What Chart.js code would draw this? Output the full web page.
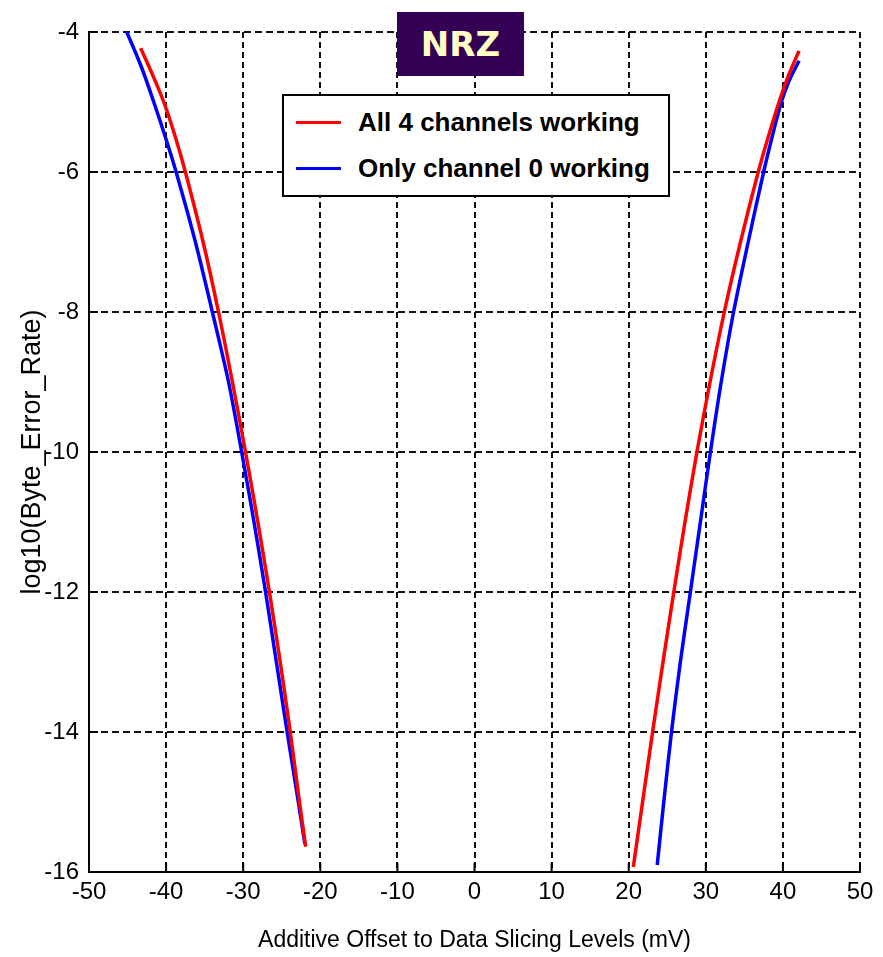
<!DOCTYPE html>
<html>
<head>
<meta charset="utf-8">
<style>
    body { margin: 0; background: #fff; }
    #wrap { position: relative; width: 883px; height: 957px; }
    #ber-chart { position: absolute; left: 0; top: 0; }
    #title-box {
        position: absolute; left: 397px; top: 12px; width: 127px; height: 64px;
        background: #330055; color: #ffffc4;
        font: bold 34px "DejaVu Sans", Verdana, sans-serif;
        display: flex; align-items: center; justify-content: center;
    }
    #legend-box {
        position: absolute; left: 282px; top: 94px; width: 384px; height: 99px;
        border: 2px solid #000; background: #fff;
    }
    .item {
        position: absolute; left: 0; height: 40px; display: flex; align-items: center;
        font: bold 26px Arial, "Liberation Sans", sans-serif; color: #000;
        white-space: nowrap;
    }
    .swatch { width: 45px; height: 3px; margin-left: 12px; margin-right: 17px; }
</style>
</head>
<body>
<div id="wrap">
    <canvas id="ber-chart" width="883" height="957"></canvas>
    <div id="title-box">NRZ</div>
    <div id="legend-box"></div>
</div>

<script src="https://cdn.jsdelivr.net/npm/chart.js"></script>

<script>
    // series names / colours
    const seriesNames = ['All 4 channels working', 'Only channel 0 working'];
    const seriesColors = ['#ff0000', '#0000ff'];

    // tick values
    const xTickValues = [-50, -40, -30, -20, -10, 0, 10, 20, 30, 40, 50];
    const yTickValues = [-16, -14, -12, -10, -8, -6, -4];

    // All 4 channels working (red)
    const allOffsetLeft = [-43.3, -41.8, -40.3, -38.8, -37.5, -35.2, -33.2, -31.4, -29.7, -28.1, -26.6, -25.2, -23.9, -22.7, -21.9];
    const allLogLeft    = [-4.23, -4.6, -5.0, -5.5, -6.0, -7.0, -8.0, -9.0, -10.0, -11.0, -12.0, -13.0, -14.0, -15.0, -15.64];
    const allOffsetRight = [20.6, 21.8, 23.1, 24.45, 25.85, 27.3, 28.85, 30.55, 32.4, 34.5, 36.8, 38.1, 39.5, 40.8, 42.1];
    const allLogRight    = [-15.93, -15.0, -14.0, -13.0, -12.0, -11.0, -10.0, -9.0, -8.0, -7.0, -6.0, -5.5, -5.0, -4.6, -4.27];

    // Only channel 0 working (blue)
    const ch0OffsetLeft = [-45.1, -43.2, -41.6, -40.1, -38.7, -36.2, -34.0, -31.9, -30.2, -28.6, -27.1, -25.7, -24.3, -22.85, -22.0];
    const ch0LogLeft    = [-4.0, -4.5, -5.0, -5.5, -6.0, -7.0, -8.0, -9.0, -10.0, -11.0, -12.0, -13.0, -14.0, -15.0, -15.6];
    const ch0OffsetRight = [23.7, 24.55, 25.55, 26.7, 28.0, 29.3, 30.6, 32.0, 33.6, 35.5, 37.5, 38.6, 39.8, 40.8, 42.1];
    const ch0LogRight    = [-15.9, -15.0, -14.0, -13.0, -12.0, -11.0, -10.0, -9.0, -8.0, -7.0, -6.0, -5.5, -5.0, -4.7, -4.41];

    const toPoints = (xs, ys) => xs.map((x, i) => ({ x, y: ys[i] }));
    const branches = (xl, yl, xr, yr) => [...toPoints(xl, yl), { x: 0, y: null }, ...toPoints(xr, yr)];

    const seriesData = [
        branches(allOffsetLeft, allLogLeft, allOffsetRight, allLogRight),
        branches(ch0OffsetLeft, ch0LogLeft, ch0OffsetRight, ch0LogRight)
    ];

    // legend (boxed, inside the plot)
    const legendBox = document.getElementById('legend-box');
    seriesNames.forEach((name, i) => {
        const item = document.createElement('div');
        item.className = 'item';
        item.style.top = (6 + i * 46) + 'px';
        item.innerHTML = `<span class="swatch" style="background:${seriesColors[i]}"></span><span>${name}</span>`;
        legendBox.appendChild(item);
    });

    // matlab style ticks pointing into the plot
    const inwardTicks = {
        id: 'inwardTicks',
        beforeDatasetsDraw(chart) {
            const { ctx, chartArea: a, scales: { x, y } } = chart;
            ctx.save();
            ctx.strokeStyle = '#000';
            ctx.lineWidth = 2;
            ctx.beginPath();
            x.ticks.forEach(t => {
                const px = x.getPixelForValue(t.value);
                ctx.moveTo(px, a.bottom);
                ctx.lineTo(px, a.bottom - 9);
            });
            y.ticks.forEach(t => {
                const py = y.getPixelForValue(t.value);
                ctx.moveTo(a.left, py);
                ctx.lineTo(a.left + 9, py);
            });
            ctx.stroke();
            ctx.restore();
        }
    };

    const sans = 'Arial, "Liberation Sans", sans-serif';
    const gridStyle = { color: '#111', lineWidth: 2, drawTicks: false };

    new Chart(document.getElementById('ber-chart'), {
        type: 'line',
        data: {
            datasets: seriesNames.map((name, i) => ({
                label: name,
                data: seriesData[i],
                borderColor: seriesColors[i],
                backgroundColor: seriesColors[i],
                borderWidth: 3.5,
                pointRadius: 0,
                tension: 0.3,
                spanGaps: false,
                fill: false
            }))
        },
        options: {
            responsive: false,
            animation: false,
            devicePixelRatio: 1,
            layout: { padding: { top: 32, right: 23, left: 0, bottom: 0 } },
            plugins: {
                legend: { display: false },
                tooltip: { enabled: false }
            },
            scales: {
                x: {
                    type: 'linear',
                    min: -50,
                    max: 50,
                    afterBuildTicks: (scale) => { scale.ticks = xTickValues.map(v => ({ value: v })); },
                    afterFit: (scale) => { scale.height = 85; },
                    grid: gridStyle,
                    border: { display: true, color: '#000', width: 2, dash: [6, 4] },
                    ticks: { color: '#000', padding: 6, font: { family: sans, size: 24 } },
                    title: {
                        display: true,
                        text: 'Additive Offset to Data Slicing Levels (mV)',
                        color: '#000',
                        padding: { top: 0, bottom: 3 },
                        font: { family: sans, size: 23 }
                    }
                },
                y: {
                    type: 'linear',
                    min: -16,
                    max: -4,
                    afterBuildTicks: (scale) => { scale.ticks = yTickValues.map(v => ({ value: v })); },
                    afterFit: (scale) => { scale.width = 89; },
                    grid: gridStyle,
                    border: { display: true, color: '#000', width: 2, dash: [7, 4] },
                    ticks: { color: '#000', padding: 10, font: { family: sans, size: 24 } },
                    title: {
                        display: true,
                        text: 'log10(Byte_Error_Rate)',
                        color: '#000',
                        padding: { top: 16, bottom: 0 },
                        font: { family: sans, size: 27 }
                    }
                }
            }
        },
        plugins: [inwardTicks]
    });
</script>
</body>
</html>
